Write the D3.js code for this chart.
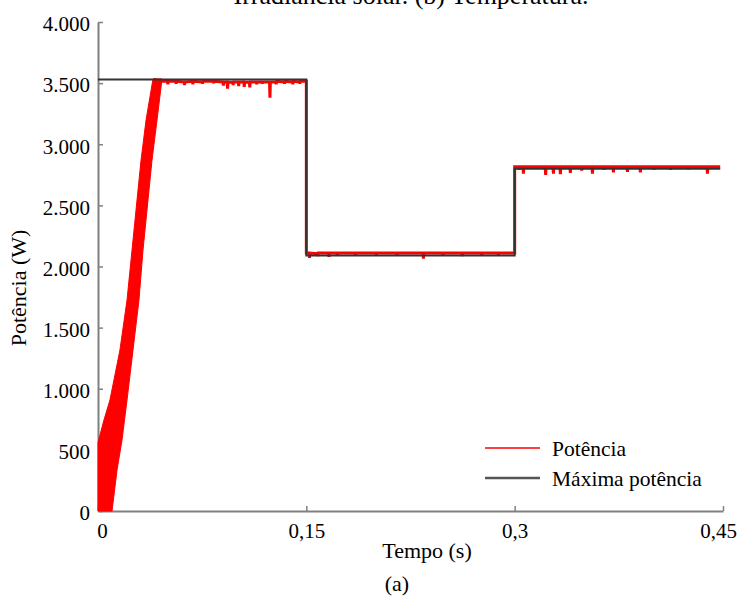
<!DOCTYPE html>
<html>
<head>
<meta charset="utf-8">
<script src="https://cdn.jsdelivr.net/npm/d3@7"></script>
<style>
  html, body { margin: 0; padding: 0; background: #fff; }
  svg { display: block; }
</style>
</head>
<body>
<svg id="chart" width="737" height="599"></svg>
<script>
// ---------------- DATA ----------------
const xTickValues = [0, 0.15, 0.30, 0.45];
const xTickLabels = ["0", "0,15", "0,3", "0,45"];
const yTickValues = [0, 500, 1000, 1500, 2000, 2500, 3000, 3500, 4000];
const yTickLabels = ["0", "500", "1.000", "1.500", "2.000", "2.500", "3.000", "3.500", "4.000"];

// Maximum power (step reference)
const mppTime  = [0, 0.15, 0.30, 0.448];
const mppValue = [3530, 2090, 2800, 2800];

// Start-up ramp of the measured power (oscillating band): envelopes
const rampUpperTime  = [0, 0, 0.0043, 0.0086, 0.0158, 0.0209, 0.0245, 0.0281, 0.0310, 0.0346, 0.0396];
const rampUpperValue = [0, 560, 745, 908, 1317, 1726, 2135, 2544, 2871, 3198, 3534];
const rampLowerTime  = [0.0101, 0.0137, 0.0173, 0.0209, 0.0252, 0.0295, 0.0324, 0.0360, 0.0389, 0.0425, 0.0461];
const rampLowerValue = [0, 335, 581, 908, 1317, 1726, 2135, 2544, 2871, 3198, 3534];

// Measured power after reaching the MPP (base level with downward spikes)
const powerTime = [
  0.0400, 0.0450, 0.0500, 0.0503, 0.0506, 0.0560, 0.0563, 0.0566, 0.0620, 0.0623,
  0.0626, 0.0680, 0.0683, 0.0686, 0.0750, 0.0753, 0.0756, 0.0830, 0.0833, 0.0836,
  0.0900, 0.0903, 0.0906, 0.0930, 0.0933, 0.0936, 0.0970, 0.0973, 0.0976, 0.1010,
  0.1013, 0.1016, 0.1050, 0.1053, 0.1056, 0.1090, 0.1093, 0.1096, 0.1140, 0.1143,
  0.1146, 0.1180, 0.1183, 0.1186, 0.1235, 0.1238, 0.1241, 0.1280, 0.1283, 0.1286,
  0.1340, 0.1343, 0.1346, 0.1400, 0.1403, 0.1406, 0.1450, 0.1453, 0.1456, 0.1500,
  0.1500, 0.1520, 0.1523, 0.1526, 0.1580, 0.1583, 0.1586, 0.1660, 0.1663, 0.1666,
  0.1720, 0.1723, 0.1726, 0.1850, 0.1853, 0.1856, 0.2000, 0.2003, 0.2006, 0.2150,
  0.2153, 0.2156, 0.2340, 0.2343, 0.2346, 0.2480, 0.2483, 0.2486, 0.2620, 0.2623,
  0.2626, 0.2760, 0.2763, 0.2766, 0.2880, 0.2883, 0.2886, 0.3000,
  0.3000, 0.3030, 0.3033, 0.3036, 0.3060, 0.3063, 0.3066, 0.3220, 0.3223, 0.3226,
  0.3276, 0.3279, 0.3282, 0.3326, 0.3329, 0.3332, 0.3398, 0.3401, 0.3404, 0.3480,
  0.3483, 0.3486, 0.3557, 0.3560, 0.3563, 0.3640, 0.3643, 0.3646, 0.3708, 0.3711,
  0.3714, 0.3809, 0.3812, 0.3815, 0.3902, 0.3905, 0.3908, 0.4000, 0.4003, 0.4006,
  0.4120, 0.4123, 0.4126, 0.4250, 0.4253, 0.4256, 0.4385, 0.4388, 0.4391, 0.4480
];
const powerValue = [
  3530, 3515, 3515, 3490, 3515, 3515, 3495, 3515, 3510, 3485,
  3510, 3515, 3490, 3515, 3510, 3495, 3515, 3515, 3500, 3515,
  3510, 3480, 3510, 3510, 3455, 3510, 3505, 3485, 3510, 3510,
  3475, 3510, 3510, 3470, 3510, 3505, 3465, 3510, 3510, 3490,
  3510, 3510, 3495, 3510, 3510, 3380, 3510, 3510, 3490, 3515,
  3510, 3495, 3515, 3510, 3490, 3515, 3510, 3495, 3515, 3515,
  2110, 2110, 2070, 2110, 2105, 2085, 2110, 2110, 2080, 2110,
  2110, 2090, 2110, 2110, 2095, 2110, 2110, 2090, 2110, 2110,
  2095, 2110, 2110, 2065, 2110, 2110, 2090, 2110, 2110, 2085,
  2110, 2110, 2090, 2110, 2110, 2095, 2110, 2110,
  2815, 2815, 2790, 2815, 2815, 2760, 2815, 2815, 2750, 2815,
  2815, 2760, 2815, 2815, 2755, 2815, 2815, 2765, 2815, 2815,
  2785, 2815, 2815, 2760, 2815, 2815, 2790, 2815, 2815, 2770,
  2815, 2815, 2775, 2815, 2815, 2770, 2815, 2815, 2790, 2815,
  2815, 2790, 2815, 2815, 2795, 2815, 2815, 2760, 2815, 2815
];

const legendLabels = ["Potência", "Máxima potência"];
const titleText = "Irradiância solar. (b) Temperatura.";
const xTitle = "Tempo (s)";
const yTitle = "Potência (W)";
const subLabel = "(a)";

// ---------------- CHART ----------------
const serif = "Liberation Serif";
const svg = d3.select("#chart");
const x = d3.scaleLinear().domain([0, 0.45]).range([98, 723]);
const y = d3.scaleLinear().domain([0, 4000]).range([511, 22]);

const axisColor = "#808080";
const redColor = "#ff0000";
const blackColor = "#333333";

// Cut-off caption at the top (the reference shows only its lower part)
svg.append("text")
  .attr("x", 411).attr("y", 4)
  .attr("text-anchor", "middle")
  .attr("font-family", serif)
  .attr("font-size", 26)
  .text(titleText);

// Axes
const yAxis = d3.axisLeft(y)
  .tickValues(yTickValues)
  .tickFormat((d, i) => yTickLabels[i])
  .tickSizeInner(-5).tickSizeOuter(0).tickPadding(8);
const gy = svg.append("g").attr("transform", `translate(${x(0)},0)`).call(yAxis);
gy.attr("font-family", serif).attr("font-size", 21);
gy.select(".domain").attr("stroke", axisColor).attr("stroke-width", 2);
gy.selectAll(".tick line").attr("stroke", axisColor).attr("stroke-width", 1.5);
gy.selectAll(".tick text").attr("dy", "0.42em").attr("fill", "#000");

const xAxis = d3.axisBottom(x)
  .tickValues(xTickValues)
  .tickFormat((d, i) => xTickLabels[i])
  .tickSizeInner(-5).tickSizeOuter(0).tickPadding(12);
const gx = svg.append("g").attr("transform", `translate(0,${y(0)})`).call(xAxis);
gx.attr("font-family", serif).attr("font-size", 21);
gx.select(".domain").attr("stroke", axisColor).attr("stroke-width", 2);
gx.selectAll(".tick line").attr("stroke", axisColor).attr("stroke-width", 1.5);
gx.selectAll(".tick text").attr("fill", "#000")
  .attr("dx", (d, i) => i === xTickValues.length - 1 ? -5 : (i === 0 ? 4 : 0));

// Ramp band (polygon from both envelopes)
const rampPts = rampUpperTime.map((t, i) => [t, rampUpperValue[i]])
  .concat(rampLowerTime.map((t, i) => [t, rampLowerValue[i]]).reverse());
svg.append("path")
  .datum(rampPts)
  .attr("d", d3.line().x(d => x(d[0])).y(d => y(d[1])).curve(d3.curveLinearClosed))
  .attr("fill", redColor)
  .attr("stroke", redColor)
  .attr("stroke-width", 1);

// Measured power line
const powerPts = powerTime.map((t, i) => [t, powerValue[i]]);
svg.append("path")
  .datum(powerPts)
  .attr("d", d3.line().x(d => x(d[0])).y(d => y(d[1])))
  .attr("fill", "none")
  .attr("stroke", redColor)
  .attr("stroke-width", 3)
  .attr("stroke-linejoin", "miter");

// Maximum power step line
const mppPts = mppTime.map((t, i) => [t, mppValue[i]]);
svg.append("path")
  .datum(mppPts)
  .attr("d", d3.line().x(d => x(d[0])).y(d => y(d[1])).curve(d3.curveStepAfter))
  .attr("fill", "none")
  .attr("stroke", blackColor)
  .attr("stroke-width", 2);

// Legend
const legend = svg.append("g");
const legendColors = [redColor, "#555555"];
legendLabels.forEach((lab, i) => {
  const ly = 448 + i * 30;
  legend.append("line")
    .attr("x1", 485).attr("x2", 540).attr("y1", ly).attr("y2", ly)
    .attr("stroke", legendColors[i]).attr("stroke-width", i === 0 ? 1.5 : 2.5);
  legend.append("text")
    .attr("x", 552).attr("y", ly + 8)
    .attr("font-family", serif)
    .attr("font-size", 21.5)
    .text(lab);
});

// Axis titles
svg.append("text")
  .attr("x", 427).attr("y", 558)
  .attr("text-anchor", "middle")
  .attr("font-family", serif)
  .attr("font-size", 22)
  .text(xTitle);
svg.append("text")
  .attr("transform", "translate(26,288) rotate(-90)")
  .attr("text-anchor", "middle")
  .attr("font-family", serif)
  .attr("font-size", 22)
  .text(yTitle);
svg.append("text")
  .attr("x", 397).attr("y", 591)
  .attr("text-anchor", "middle")
  .attr("font-family", serif)
  .attr("font-size", 22)
  .text(subLabel);
</script>
</body>
</html>
